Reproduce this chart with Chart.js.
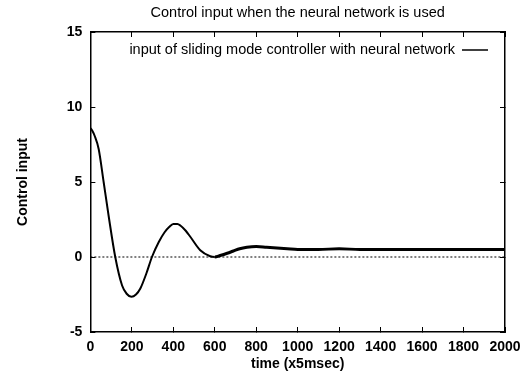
<!DOCTYPE html>
<html><head><meta charset="utf-8">
<script src="https://cdn.jsdelivr.net/npm/chart.js@4/dist/chart.umd.min.js"></script>
<style>html,body{margin:0;padding:0;background:#fff}#wrap{width:520px;height:371px}</style>
</head><body><div id="wrap"><canvas id="c" width="520" height="371"></canvas></div>
<script>
const chartTitle = "Control input when the neural network is used";
const seriesLabel = "input of sliding mode controller with neural network";
const xTitle = "time (x5msec)";
const yTitle = "Control input";
const times = [0,10,20,40,64,88,120,153,175,198,220,241,270,297,330,358,380,400,420,434,460,482,530,578,600,626,660,690,720,755,800,850,900,950,1000,1100,1200,1300,1400,1500,1600,1700,1800,1900,2000];
const values = [8.6,8.4,8.1,7.2,5.0,2.75,0,-1.9,-2.45,-2.65,-2.5,-2.1,-1.1,0,1.0,1.65,2.0,2.2,2.2,2.1,1.75,1.35,0.45,0.05,0.0,0.1,0.25,0.4,0.55,0.65,0.7,0.65,0.6,0.55,0.5,0.5,0.55,0.5,0.5,0.5,0.5,0.5,0.5,0.5,0.5];
const zeroLine = [[0,0],[2000,0]];

const FONT = "'Liberation Sans', Arial, sans-serif";

const overlay = {
  id: 'overlay',
  afterDraw(chart) {
    const ctx = chart.ctx, a = chart.chartArea;
    ctx.save();
    ctx.fillStyle = '#000';
    ctx.font = "14.5px " + FONT;
    ctx.textAlign = 'center';
    ctx.textBaseline = 'middle';
    ctx.fillText(chartTitle, (a.left + a.right) / 2, 13);
    ctx.textAlign = 'right';
    const ly = a.top + 18;
    ctx.fillText(chart.data.datasets[0].label, a.right - 50, ly);
    ctx.strokeStyle = '#000';
    ctx.lineWidth = 1.5;
    ctx.beginPath();
    ctx.moveTo(a.right - 43, ly);
    ctx.lineTo(a.right - 17, ly);
    ctx.stroke();
    ctx.restore();
  }
};

const axisGrid = {drawOnChartArea:false, drawTicks:true, tickLength:-5, color:'#000', lineWidth:1};
const axisBorder = {display:true, color:'#000', width:1.5};
const plain = v => String(v);

new Chart(document.getElementById('c'), {
  type: 'scatter',
  data: {
    datasets: [
      {label: seriesLabel, data: times.map((t,i)=>({x:t,y:values[i]})), showLine:true, borderColor:'#000', borderWidth:2, pointRadius:0, cubicInterpolationMode:'monotone', fill:false,
       segment:{borderWidth: c => c.p0.parsed.x >= 600 ? 3 : 2}},
      {label: 'zero', data: zeroLine.map(p=>({x:p[0],y:p[1]})), showLine:true, borderColor:'#000', borderWidth:1, borderDash:[2,2], pointRadius:0, fill:false}
    ]
  },
  options: {
    responsive:false, animation:false, devicePixelRatio:1,
    layout:{padding:{top:32,right:15,left:15,bottom:0}},
    plugins:{legend:{display:false}, title:{display:false}, tooltip:{enabled:false}},
    scales:{
      x:{type:'linear', position:'bottom', min:0, max:2000,
         afterFit: s => { s.height = 39; s.paddingRight = 0; s.paddingLeft = 0; },
         ticks:{stepSize:200, callback:plain, color:'#000', font:{family:FONT, size:14, weight:'bold'}, padding:12, maxRotation:0},
         grid:axisGrid, border:axisBorder,
         title:{display:true, text:xTitle, color:'#000', font:{family:FONT, size:14, weight:'bold'}, padding:{top:0,bottom:-2}}},
      x2:{type:'linear', position:'top', min:0, max:2000,
         afterFit: s => { s.height = 0; s.paddingRight = 0; s.paddingLeft = 0; },
         ticks:{stepSize:200, display:false},
         grid:axisGrid, border:axisBorder},
      y:{type:'linear', position:'left', min:-5, max:15,
         ticks:{stepSize:5, callback:plain, color:'#000', font:{family:FONT, size:14, weight:'bold'}, padding:13},
         grid:axisGrid, border:axisBorder,
         title:{display:true, text:yTitle, color:'#000', font:{family:FONT, size:14, weight:'bold'}, padding:{top:0,bottom:22}}},
      y2:{type:'linear', position:'right', min:-5, max:15,
         afterFit: s => { s.width = 0; },
         ticks:{stepSize:5, display:false},
         grid:axisGrid, border:axisBorder}
    }
  },
  plugins:[overlay]
});
</script>
</body></html>
